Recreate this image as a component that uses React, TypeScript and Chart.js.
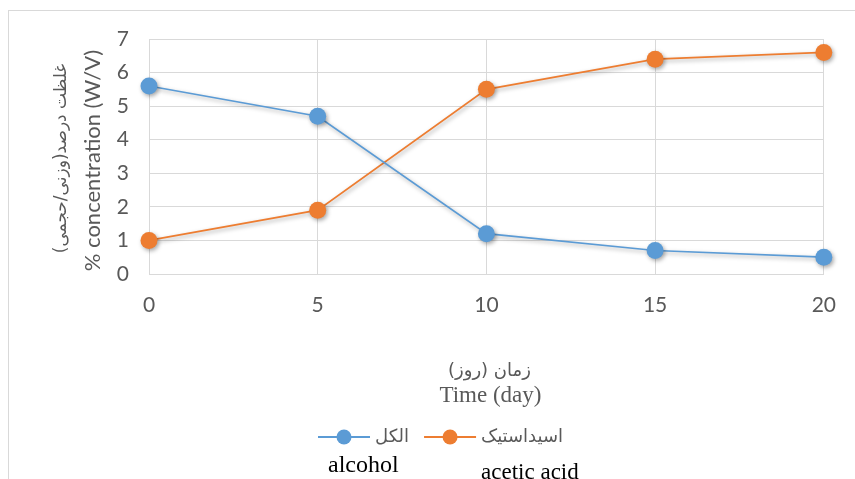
import React, { useEffect, useRef } from 'react';
import { Chart, registerables } from 'chart.js';

Chart.register(...registerables);

// ---- data ----
const days = [0, 5, 10, 15, 20];
const alcohol = [5.6, 4.7, 1.2, 0.7, 0.5];
const aceticAcid = [1.0, 1.9, 5.5, 6.4, 6.6];
const seriesLabels = ['الکل', 'اسیداستیک'];
const seriesEnglish = ['alcohol', 'acetic acid'];
const yTitleLines = ['غلظت درصد(وزنی/حجمی)', '% concentration (W/V)'];
const xTitleLines = ['زمان (روز)', 'Time (day)'];
const xTicks = [0, 5, 10, 15, 20];
const yTicks = [0, 1, 2, 3, 4, 5, 6, 7];

// ---- styles ----
const BLUE = '#5b9bd5';
const ORANGE = '#ed7d31';
const GRAY = '#595959';
const GRID = '#d9d9d9';
const W = 855;
const H = 479;

const shadowPlugin = {
  id: 'markerShadow',
  beforeDatasetsDraw(chart: any) {
    const ctx = chart.ctx;
    ctx.save();
    ctx.shadowColor = 'rgba(0,0,0,0.35)';
    ctx.shadowBlur = 4;
    ctx.shadowOffsetX = 1.5;
    ctx.shadowOffsetY = 2;
  },
  afterDatasetsDraw(chart: any) {
    chart.ctx.restore();
  },
};

const overlayPlugin = {
  id: 'overlay',
  afterDraw(chart: any) {
    const { ctx, chartArea } = chart;
    const midX = (chartArea.left + chartArea.right) / 2;
    const midY = (chartArea.top + chartArea.bottom) / 2;
    ctx.save();
    ctx.textAlign = 'center';
    ctx.textBaseline = 'middle';
    ctx.fillStyle = GRAY;

    // y axis title (two lines, rotated)
    ctx.save();
    ctx.translate(62, midY + 2);
    ctx.rotate(-Math.PI / 2);
    ctx.direction = 'rtl';
    ctx.font = "17px 'DejaVu Sans'";
    ctx.fillText(yTitleLines[0], 0, 0);
    ctx.restore();

    ctx.save();
    ctx.translate(93, midY + 4);
    ctx.rotate(-Math.PI / 2);
    ctx.direction = 'ltr';
    ctx.font = '22px Lato';
    ctx.fillText(yTitleLines[1], 0, 0);
    ctx.restore();

    // x axis title (two lines)
    ctx.save();
    ctx.direction = 'rtl';
    ctx.font = "18px 'DejaVu Sans'";
    ctx.fillText(xTitleLines[0], midX + 3, 371);
    ctx.restore();
    ctx.save();
    ctx.direction = 'ltr';
    ctx.font = "23px 'Liberation Serif'";
    ctx.fillText(xTitleLines[1], midX + 4, 396);
    ctx.restore();

    // legend
    const colors = [BLUE, ORANGE];
    const legendY = 437;
    const textStarts: number[] = [];
    let x = 318;
    ctx.font = "18px 'DejaVu Sans'";
    for (let i = 0; i < seriesLabels.length; i++) {
      ctx.strokeStyle = colors[i];
      ctx.lineWidth = 2;
      ctx.beginPath();
      ctx.moveTo(x, legendY);
      ctx.lineTo(x + 52, legendY);
      ctx.stroke();
      ctx.fillStyle = colors[i];
      ctx.beginPath();
      ctx.arc(x + 26, legendY, 7.5, 0, Math.PI * 2);
      ctx.fill();
      const tx = x + 57;
      textStarts.push(tx);
      ctx.save();
      ctx.direction = 'rtl';
      ctx.textAlign = 'left';
      ctx.fillStyle = GRAY;
      ctx.fillText(seriesLabels[i], tx, legendY);
      const w = ctx.measureText(seriesLabels[i]).width;
      ctx.restore();
      x = tx + w + 15;
    }

    // English labels under legend
    ctx.direction = 'ltr';
    ctx.textAlign = 'left';
    ctx.textBaseline = 'alphabetic';
    ctx.fillStyle = '#000000';
    ctx.font = "24px 'Liberation Serif'";
    ctx.fillText(seriesEnglish[0], 328, 472);
    ctx.font = "23px 'Liberation Serif'";
    ctx.fillText(seriesEnglish[1], textStarts[1], 479);
    ctx.restore();
  },
};

export default function App() {
  const canvasRef = useRef<HTMLCanvasElement | null>(null);

  useEffect(() => {
    const canvas = canvasRef.current;
    if (!canvas) return;
    const mk = (vals: number[]) => days.map((d, i) => ({ x: d, y: vals[i] }));
    const chart = new Chart(canvas, {
      type: 'line',
      data: {
        datasets: [
          {
            label: seriesLabels[0],
            data: mk(alcohol),
            borderColor: BLUE,
            backgroundColor: BLUE,
            borderWidth: 1.75,
            pointRadius: 8.5,
            pointBorderWidth: 0,
            pointBackgroundColor: BLUE,
            tension: 0,
            clip: false as any,
          },
          {
            label: seriesLabels[1],
            data: mk(aceticAcid),
            borderColor: ORANGE,
            backgroundColor: ORANGE,
            borderWidth: 1.75,
            pointRadius: 8.5,
            pointBorderWidth: 0,
            pointBackgroundColor: ORANGE,
            tension: 0,
            clip: false as any,
          },
        ],
      },
      options: {
        responsive: false,
        animation: false,
        devicePixelRatio: 1,
        layout: { padding: { left: 0, top: 39, right: 30, bottom: 0 } },
        plugins: {
          legend: { display: false },
          tooltip: { enabled: false },
          title: { display: false },
        },
        scales: {
          x: {
            type: 'linear',
            min: xTicks[0],
            max: xTicks[xTicks.length - 1],
            afterBuildTicks: (scale: any) => {
              scale.ticks = xTicks.map((v) => ({ value: v }));
            },
            afterFit: (scale: any) => {
              scale.height = H - 274;
            },
            grid: { color: GRID, lineWidth: 1, drawTicks: false },
            border: { color: GRID },
            ticks: {
              color: GRAY,
              font: { family: 'Lato', size: 21 },
              padding: 19,
              maxRotation: 0,
            },
          },
          y: {
            min: yTicks[0],
            max: yTicks[yTicks.length - 1],
            afterBuildTicks: (scale: any) => {
              scale.ticks = yTicks.map((v) => ({ value: v }));
            },
            afterFit: (scale: any) => {
              scale.width = 149;
            },
            grid: { color: GRID, lineWidth: 1, drawTicks: false },
            border: { color: GRID },
            ticks: {
              color: GRAY,
              font: { family: 'Lato', size: 21 },
              padding: 20,
            },
          },
        },
      },
      plugins: [shadowPlugin, overlayPlugin],
    });
    return () => chart.destroy();
  }, []);

  return (
    <div
      style={{
        position: 'absolute',
        left: 0,
        top: 0,
        width: W,
        height: H,
        overflow: 'hidden',
        background: '#ffffff',
      }}
    >
      <div
        style={{
          position: 'absolute',
          left: 8,
          top: 10,
          width: W,
          height: H,
          border: '1px solid ' + GRID,
        }}
      />
      <canvas
        ref={canvasRef}
        width={W}
        height={H}
        style={{ position: 'absolute', left: 0, top: 0, display: 'block' }}
      />
    </div>
  );
}
